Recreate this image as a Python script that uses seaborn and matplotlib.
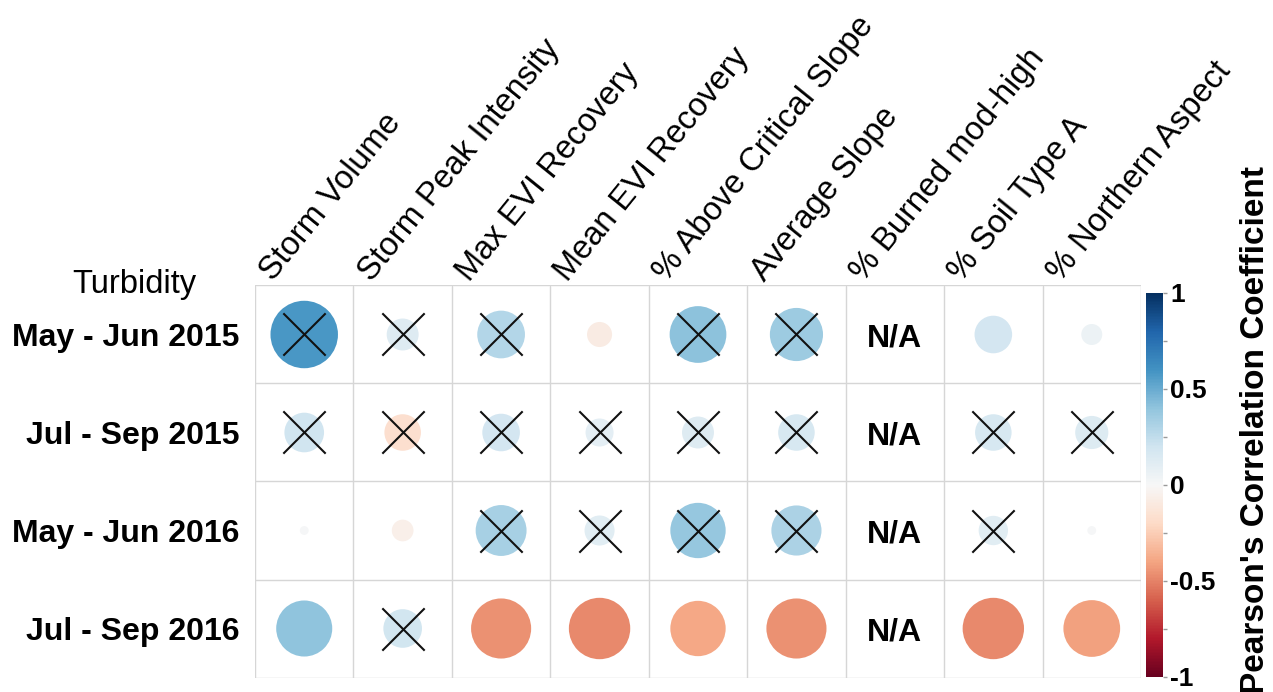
import numpy as np
import pandas as pd
import matplotlib
matplotlib.use("Agg")
import matplotlib.pyplot as plt
import matplotlib.transforms as mtransforms
from matplotlib.colors import Normalize
from matplotlib.cm import ScalarMappable
import seaborn as sns

# ---------------- data ----------------
periods = ["May - Jun 2015", "Jul - Sep 2015", "May - Jun 2016", "Jul - Sep 2016"]
variables = ["Storm Volume", "Storm Peak Intensity", "Max EVI Recovery",
             "Mean EVI Recovery", "% Above Critical Slope", "Average Slope",
             "% Burned mod-high", "% Soil Type A", "% Northern Aspect"]

r_may_jun_2015 = [0.58, 0.13, 0.29, -0.08, 0.41, 0.36, np.nan, 0.18, 0.056]
r_jul_sep_2015 = [0.20, -0.17, 0.18, 0.10, 0.13, 0.17, np.nan, 0.17, 0.14]
r_may_jun_2016 = [0.01, -0.06, 0.33, 0.115, 0.39, 0.32, np.nan, 0.11, 0.01]
r_jul_sep_2016 = [0.40, 0.19, -0.46, -0.48, -0.39, -0.46, np.nan, -0.48, -0.41]

# 1 = not significant (drawn with a cross)
x_may_jun_2015 = [1, 1, 1, 0, 1, 1, 0, 0, 0]
x_jul_sep_2015 = [1, 1, 1, 1, 1, 1, 0, 1, 1]
x_may_jun_2016 = [0, 0, 1, 1, 1, 1, 0, 1, 0]
x_jul_sep_2016 = [0, 1, 0, 0, 0, 0, 0, 0, 0]

cbar_ticks = [-1, -0.5, 0, 0.5, 1]
cbar_ticklabels = ["-1", "-0.5", "0", "0.5", "1"]

r_rows = [r_may_jun_2015, r_jul_sep_2015, r_may_jun_2016, r_jul_sep_2016]
x_rows = [x_may_jun_2015, x_jul_sep_2015, x_may_jun_2016, x_jul_sep_2016]

recs = []
for i, p in enumerate(periods):
    for j, v in enumerate(variables):
        recs.append(dict(period=p, variable=v, row=i, col=j,
                         r=r_rows[i][j], cross=x_rows[i][j]))
df = pd.DataFrame(recs)
df["absr"] = df["r"].abs()
valid = df.dropna(subset=["r"])
na_cells = df[df["r"].isna()]

# ---------------- figure ----------------
sns.set_theme(style="white")
plt.rcParams["font.family"] = ["Liberation Sans", "DejaVu Sans"]

W, H, DPI = 1273, 692, 100
fig = plt.figure(figsize=(W / DPI, H / DPI), dpi=DPI)
left, right, top, bottom = 255, 1141, 285.5, 677.5
ax = fig.add_axes([left / W, 1 - bottom / H, (right - left) / W, (bottom - top) / H])

cell_px = (right - left) / len(variables)
dmax_pt = 0.9 * cell_px * 72 / DPI   # corrplot: diameter = 0.9*sqrt(|r|) cell

# grid
for k in range(len(variables) + 1):
    ax.axvline(k - 0.5, color="#d6d6d6", lw=1.0, zorder=0)
for k in range(len(periods) + 1):
    ax.axhline(k - 0.5, color="#d6d6d6", lw=1.0, zorder=0)

sns.scatterplot(data=valid, x="col", y="row", hue="r", hue_norm=(-1, 1),
                palette="RdBu", size="absr", size_norm=(0, 1),
                sizes=(0, dmax_pt ** 2), linewidth=0, legend=False, ax=ax, zorder=2)

crossed = valid[valid["cross"] == 1]
sns.scatterplot(data=crossed, x="col", y="row", marker="x", color="#111111",
                s=(0.43 * cell_px * 72 / DPI) ** 2, linewidth=1.5, legend=False,
                ax=ax, zorder=3)

for _, rw in na_cells.iterrows():
    ax.text(rw["col"], rw["row"] + 0.04, "N/A", ha="center", va="center",
            fontsize=23, fontweight="bold", color="black")

ax.set_xlim(-0.5, len(variables) - 0.5)
ax.set_ylim(len(periods) - 0.5, -0.5)
ax.set_xlabel("")
ax.set_ylabel("")
ax.set_xticks([])
ax.set_yticks(range(len(periods)))
ax.set_yticklabels(periods, fontsize=23, fontweight="bold", color="black")
ax.tick_params(axis="y", length=0, pad=11)
for s in ax.spines.values():
    s.set_visible(False)

# column labels
trans = mtransforms.blended_transform_factory(ax.transData, ax.transAxes)
off = mtransforms.offset_copy(trans, fig=fig, x=0, y=3, units="dots")
for j, v in enumerate(variables):
    ax.text(j - 0.32, 1.0, v, transform=off, rotation=51, rotation_mode="anchor",
            ha="left", va="baseline", fontsize=23.5, color="black")

fig.text(134 / W, 1 - 285 / H, "Turbidity", ha="center", va="center",
         fontsize=23.5, color="black")

# colorbar
cb_top, cb_bot = 293, 677
cax = fig.add_axes([1146 / W, 1 - cb_bot / H, 17 / W, (cb_bot - cb_top) / H])
sm = ScalarMappable(norm=Normalize(-1, 1), cmap="RdBu")
cb = fig.colorbar(sm, cax=cax)
cb.outline.set_visible(False)
cb.set_ticks(cbar_ticks)
cb.set_ticklabels(cbar_ticklabels)
cax.set_yticks([-0.75, -0.25, 0.25, 0.75], minor=True)
cax.tick_params(axis="y", which="both", length=3, width=1, color="#9a9a9a",
                labelsize=19, pad=2, labelcolor="black")
for t in cax.get_yticklabels():
    t.set_fontweight("bold")

fig.text(1255 / W, 1 - 430 / H, "Pearson's Correlation Coefficient",
         rotation=90, ha="center", va="center", fontsize=24, fontweight="bold",
         color="black")

fig.savefig("out.png", dpi=DPI, facecolor="white")
